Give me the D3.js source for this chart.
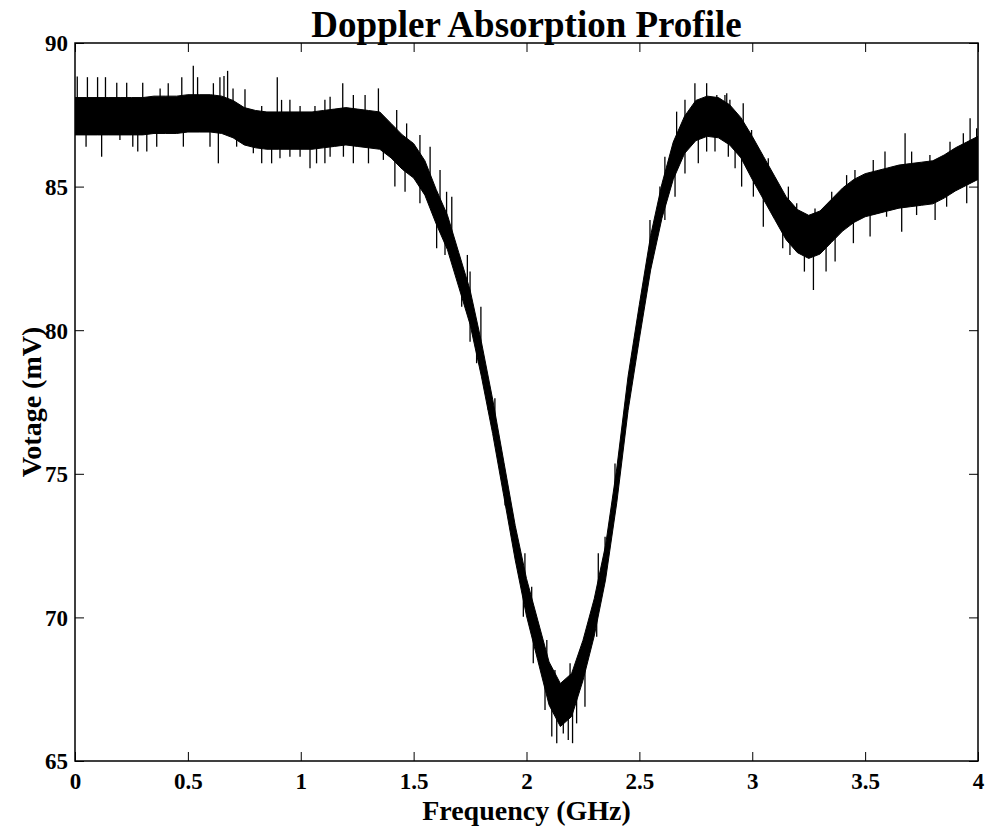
<!DOCTYPE html>
<html>
<head>
<meta charset="utf-8">
<script src="https://cdn.jsdelivr.net/npm/d3@7"></script>
<style>
  body { margin: 0; background: #fff; }
  svg text { font-family: "Liberation Serif", "Times New Roman", serif; font-weight: bold; fill: #000; }
</style>
</head>
<body>
<div id="chart"></div>
<script>
// frequency grid (GHz) for the smoothed trace
const freqGHz = [0, 0.05, 0.1, 0.15, 0.2, 0.25, 0.3, 0.35, 0.4, 0.45,
  0.5, 0.55, 0.6, 0.65, 0.7, 0.75, 0.8, 0.85, 0.9, 0.95,
  1, 1.05, 1.1, 1.15, 1.2, 1.25, 1.3, 1.35, 1.4, 1.45,
  1.5, 1.55, 1.6, 1.65, 1.7, 1.75, 1.8, 1.85, 1.9, 1.95,
  2, 2.05, 2.1, 2.15, 2.2, 2.25, 2.3, 2.35, 2.4, 2.45,
  2.5, 2.55, 2.6, 2.65, 2.7, 2.75, 2.8, 2.85, 2.9, 2.95,
  3, 3.05, 3.1, 3.15, 3.2, 3.25, 3.3, 3.35, 3.4, 3.45,
  3.5, 3.55, 3.6, 3.65, 3.7, 3.75, 3.8, 3.85, 3.9, 3.95,
  4];

// centre of the noisy band (mV)
const centreMV = [87.45, 87.45, 87.45, 87.45, 87.45, 87.45, 87.45, 87.5, 87.5, 87.5,
  87.55, 87.55, 87.55, 87.5, 87.35, 87.1, 87.0, 86.95, 86.95, 86.95,
  86.95, 86.95, 87.0, 87.05, 87.1, 87.05, 87.0, 86.95, 86.6, 86.2,
  85.9, 85.3, 84.3, 83.4, 82.1, 80.8, 79.0, 77.0, 74.8, 72.6,
  70.7, 69.2, 67.7, 66.95, 67.3, 68.5, 70.0, 71.9, 74.6, 77.8,
  80.3, 82.7, 84.5, 85.9, 86.8, 87.3, 87.45, 87.4, 87.15, 86.7,
  86.0, 85.3, 84.6, 83.9, 83.45, 83.25, 83.4, 83.8, 84.2, 84.5,
  84.7, 84.8, 84.9, 85.0, 85.05, 85.1, 85.15, 85.35, 85.6, 85.8,
  86.0];

// half thickness of the dense part of the band (mV)
const noiseHalfMV = [0.65, 0.65, 0.65, 0.65, 0.65, 0.65, 0.65, 0.65, 0.65, 0.65,
  0.65, 0.65, 0.65, 0.65, 0.65, 0.65, 0.65, 0.65, 0.65, 0.65,
  0.65, 0.65, 0.65, 0.65, 0.65, 0.65, 0.65, 0.65, 0.6, 0.6,
  0.6, 0.6, 0.6, 0.6, 0.6, 0.6, 0.6, 0.6, 0.6, 0.6,
  0.65, 0.7, 0.75, 0.75, 0.75, 0.7, 0.65, 0.6, 0.6, 0.6,
  0.6, 0.6, 0.6, 0.65, 0.65, 0.7, 0.7, 0.7, 0.7, 0.7,
  0.75, 0.75, 0.75, 0.75, 0.75, 0.75, 0.75, 0.75, 0.75, 0.75,
  0.75, 0.75, 0.75, 0.75, 0.75, 0.75, 0.75, 0.75, 0.75, 0.75,
  0.75];

// tips of the noise spikes [GHz, mV]
const upSpikes = [[0.01, 88.83], [0.055, 88.81], [0.10, 88.81], [0.135, 88.81], [0.185, 88.62],
  [0.229, 88.62], [0.30, 88.62], [0.377, 88.42], [0.413, 88.6], [0.473, 88.81],
  [0.524, 89.21], [0.543, 88.81], [0.613, 88.6], [0.642, 88.81], [0.66, 88.85],
  [0.676, 89.03], [0.70, 88.42], [0.753, 88.39], [0.827, 87.81], [0.896, 88.81],
  [0.915, 88.02], [0.952, 88.02], [0.997, 87.81], [1.063, 87.81], [1.107, 88.02],
  [1.13, 88.13], [1.186, 88.6], [1.233, 88.19], [1.285, 88.19], [1.344, 88.42],
  [1.425, 87.67], [1.469, 87.2], [1.528, 86.8], [1.573, 86.39], [1.617, 85.58],
  [1.646, 84.82], [1.669, 84.65], [1.738, 82.62], [1.75, 82.04], [1.798, 80.82],
  [1.86, 77.63], [1.993, 72.23], [2.023, 71.07], [2.09, 69.21], [2.126, 68.17],
  [2.193, 68.4], [2.237, 68.86], [2.318, 72.23], [2.348, 72.81], [2.392, 75.36],
  [2.547, 83.84], [2.591, 85.0], [2.613, 86.04], [2.665, 87.61], [2.702, 88.02],
  [2.746, 88.6], [2.798, 88.6], [2.843, 88.19], [2.887, 88.25], [2.879, 88.19],
  [2.901, 88.02], [2.96, 87.9], [2.997, 86.97], [3.027, 86.22], [3.071, 85.99],
  [3.16, 85.0], [3.197, 84.42], [3.278, 84.24], [3.352, 84.82], [3.418, 85.4],
  [3.455, 85.58], [3.536, 85.93], [3.588, 86.22], [3.677, 86.86], [3.706, 86.22],
  [3.787, 86.1], [3.876, 86.56], [3.935, 86.86], [3.965, 87.38], [3.994, 87.03]];

const downSpikes = [[0.015, 86.86], [0.049, 86.39], [0.118, 86.04], [0.199, 86.62], [0.256, 86.39],
  [0.278, 86.22], [0.318, 86.22], [0.362, 86.39], [0.48, 86.39], [0.598, 86.39],
  [0.635, 85.81], [0.716, 86.39], [0.79, 86.16], [0.827, 85.81], [0.871, 85.81],
  [0.908, 85.99], [0.952, 86.04], [0.997, 86.04], [1.041, 85.64], [1.07, 85.81],
  [1.107, 85.81], [1.13, 86.04], [1.189, 86.04], [1.233, 85.81], [1.3, 85.81],
  [1.366, 85.93], [1.417, 85.0], [1.462, 84.82], [1.528, 84.42], [1.602, 82.85],
  [1.639, 82.62], [1.713, 80.82], [1.75, 79.6], [1.779, 78.85], [1.831, 77.22],
  [1.905, 73.9], [1.986, 70.02], [2.03, 68.4], [2.082, 66.78], [2.112, 65.85],
  [2.134, 65.62], [2.163, 65.96], [2.185, 65.73], [2.204, 65.62], [2.222, 66.31],
  [2.259, 66.89], [2.311, 69.33], [2.488, 79.77], [2.547, 82.44], [2.613, 83.84],
  [2.658, 84.65], [2.702, 85.46], [2.761, 85.81], [2.798, 86.22], [2.835, 86.22],
  [2.894, 86.04], [2.924, 85.64], [2.953, 85.0], [3.005, 84.65], [3.049, 83.6],
  [3.135, 82.85], [3.167, 82.62], [3.231, 82.04], [3.271, 81.4], [3.327, 82.04],
  [3.367, 82.39], [3.448, 83.03], [3.522, 83.26], [3.595, 83.95], [3.662, 83.43],
  [3.728, 84.01], [3.81, 83.84], [3.861, 84.3], [3.95, 84.42]];

const xTicks = [0, 0.5, 1, 1.5, 2, 2.5, 3, 3.5, 4];
const yTicks = [65, 70, 75, 80, 85, 90];

const W = 989, H = 830;
const margin = { top: 43, right: 11, bottom: 69, left: 75 };
const width = W - margin.left - margin.right;
const height = H - margin.top - margin.bottom;

const svg = d3.select("#chart").append("svg")
  .attr("width", W)
  .attr("height", H);

const g = svg.append("g")
  .attr("transform", `translate(${margin.left},${margin.top})`);

const x = d3.scaleLinear().domain([0, 4]).range([0, width]);
const y = d3.scaleLinear().domain([65, 90]).range([height, 0]);

g.append("clipPath").attr("id", "plotClip")
  .append("rect").attr("width", width).attr("height", height);

const trace = freqGHz.map((f, i) => ({ f: f, c: centreMV[i], h: noiseHalfMV[i] }));

const plot = g.append("g").attr("clip-path", "url(#plotClip)");

// dense core of the trace
const band = d3.area()
  .x(d => x(d.f))
  .y0(d => y(d.c - d.h))
  .y1(d => y(d.c + d.h));

plot.append("path")
  .datum(trace)
  .attr("d", band)
  .attr("fill", "#000")
  .attr("stroke", "#000")
  .attr("stroke-width", 1);

// spikes hang off the band centre
const centreAt = d3.scaleLinear().domain(freqGHz).range(centreMV);

plot.selectAll(".spike")
  .data(upSpikes.concat(downSpikes))
  .enter().append("line")
  .attr("class", "spike")
  .attr("x1", d => x(d[0]))
  .attr("x2", d => x(d[0]))
  .attr("y1", d => y(centreAt(d[0])))
  .attr("y2", d => y(d[1]))
  .attr("stroke", "#000")
  .attr("stroke-width", 1.3);

// axes, matlab style: ticks inside on all four sides
const fmt = d3.format("");
const xAxis = g.append("g").attr("transform", `translate(0,${height})`)
  .call(d3.axisBottom(x).tickValues(xTicks).tickFormat(fmt).tickSize(-9).tickPadding(0));
xAxis.selectAll("text").attr("y", 28).attr("dy", null).style("font-size", "23px");

const yAxis = g.append("g")
  .call(d3.axisLeft(y).tickValues(yTicks).tickSize(-9).tickPadding(7));
yAxis.selectAll("text").attr("dy", "0.34em").style("font-size", "23px");

g.append("g").attr("transform", "translate(0,0)")
  .call(d3.axisTop(x).tickValues(xTicks).tickFormat("").tickSize(-9));
g.append("g").attr("transform", `translate(${width},0)`)
  .call(d3.axisRight(y).tickValues(yTicks).tickFormat("").tickSize(-9));

g.selectAll(".domain").remove();
g.selectAll(".tick line").attr("stroke", "#000").attr("stroke-width", 1);

g.append("rect")
  .attr("width", width)
  .attr("height", height)
  .attr("fill", "none")
  .attr("stroke", "#000")
  .attr("stroke-width", 1.5);

// labels
svg.append("text")
  .attr("x", margin.left + width / 2)
  .attr("y", 37)
  .attr("text-anchor", "middle")
  .style("font-size", "37px")
  .text("Doppler Absorption Profile");

svg.append("text")
  .attr("x", margin.left + width / 2)
  .attr("y", 820)
  .attr("text-anchor", "middle")
  .style("font-size", "28px")
  .text("Frequency (GHz)");

svg.append("text")
  .attr("transform", `translate(41,${margin.top + height / 2}) rotate(-90)`)
  .attr("text-anchor", "middle")
  .style("font-size", "28px")
  .text("Votage (mV)");
</script>
</body>
</html>
